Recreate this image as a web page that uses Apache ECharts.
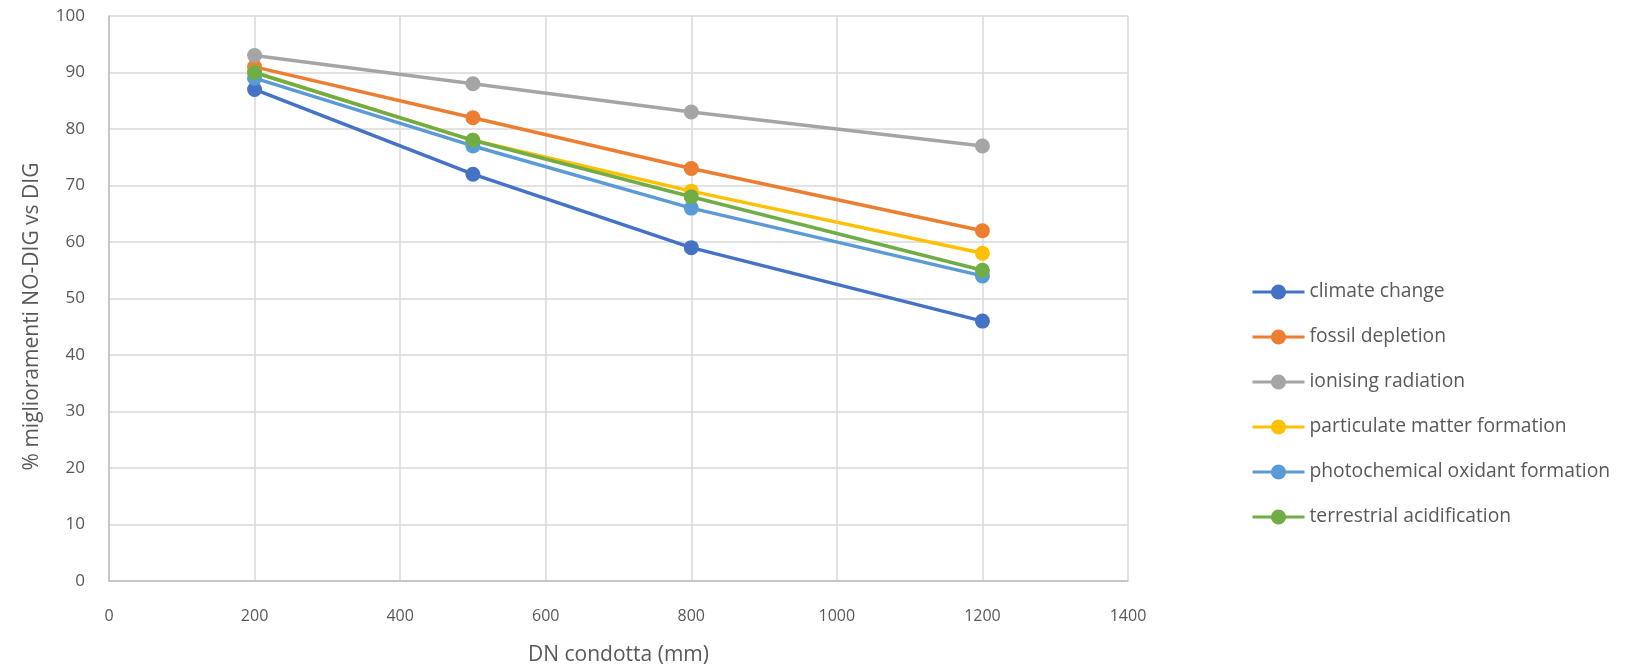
<!DOCTYPE html>
<html><head><meta charset="utf-8">
<script src="https://cdn.jsdelivr.net/npm/echarts@6/dist/echarts.min.js"></script>
<style>html,body{margin:0;padding:0;background:#fff}#c{width:1647px;height:665px}</style>
</head><body><div id="c"></div>
<script>
const xValues = [200, 500, 800, 1200];
const seriesNames = ['climate change','fossil depletion','ionising radiation','particulate matter formation','photochemical oxidant formation','terrestrial acidification'];
const climateChange = [87, 72, 59, 46];
const fossilDepletion = [91, 82, 73, 62];
const ionisingRadiation = [93, 88, 83, 77];
const particulateMatter = [90, 78, 69, 58];
const photochemicalOxidant = [89, 77, 66, 54];
const terrestrialAcidification = [90, 78, 68, 55];
const colors = ['#4472C4','#ED7D31','#A5A5A5','#FFC000','#5B9BD5','#70AD47'];
const allData = [climateChange, fossilDepletion, ionisingRadiation, particulateMatter, photochemicalOxidant, terrestrialAcidification];

const font = "'Open Sans', 'Noto Sans', sans-serif";
const chart = echarts.init(document.getElementById('c'));
chart.setOption({
  animation: false,
  color: colors,
  grid: {left: 109, right: 519, top: 16, bottom: 84, containLabel: false, outerBoundsMode: 'none'},
  legend: {
    orient: 'vertical', left: 1246, top: 275, itemGap: 21,
    itemWidth: 52, itemHeight: 19,
    textStyle: {color: '#595959', fontSize: 19.3, lineHeight: 24, fontFamily: font},
    lineStyle: {width: 3},
    data: seriesNames
  },
  xAxis: {
    type: 'value', min: 0, max: 1400, interval: 200,
    name: 'DN condotta (mm)', nameLocation: 'middle', nameGap: 64,
    nameTextStyle: {color: '#595959', fontSize: 21, fontFamily: font},
    axisLine: {show: true, lineStyle: {color: '#bfbfbf', width: 1.5}},
    axisTick: {show: false},
    axisLabel: {color: '#595959', fontSize: 16, fontFamily: font, margin: 27, formatter: v => String(v)},
    splitLine: {show: true, lineStyle: {color: '#d9d9d9', width: 1.5}}
  },
  yAxis: {
    type: 'value', min: 0, max: 100, interval: 10,
    name: '% miglioramenti NO-DIG vs DIG', nameLocation: 'middle', nameGap: 66,
    nameTextStyle: {color: '#595959', fontSize: 21, fontFamily: font, padding: [0, 36, 0, 0]},
    axisLine: {show: true, lineStyle: {color: '#bfbfbf', width: 1.5}},
    axisTick: {show: false},
    axisLabel: {color: '#595959', fontSize: 17, fontFamily: font, margin: 24},
    splitLine: {show: true, lineStyle: {color: '#d9d9d9', width: 1.5}}
  },
  series: seriesNames.map((n, i) => ({
    name: n, type: 'line',
    data: xValues.map((x, j) => [x, allData[i][j]]),
    symbol: 'circle', symbolSize: 15,
    lineStyle: {width: 3.5, color: colors[i]},
    itemStyle: {color: colors[i]},
    z: 2 + i
  }))
});
</script></body></html>
